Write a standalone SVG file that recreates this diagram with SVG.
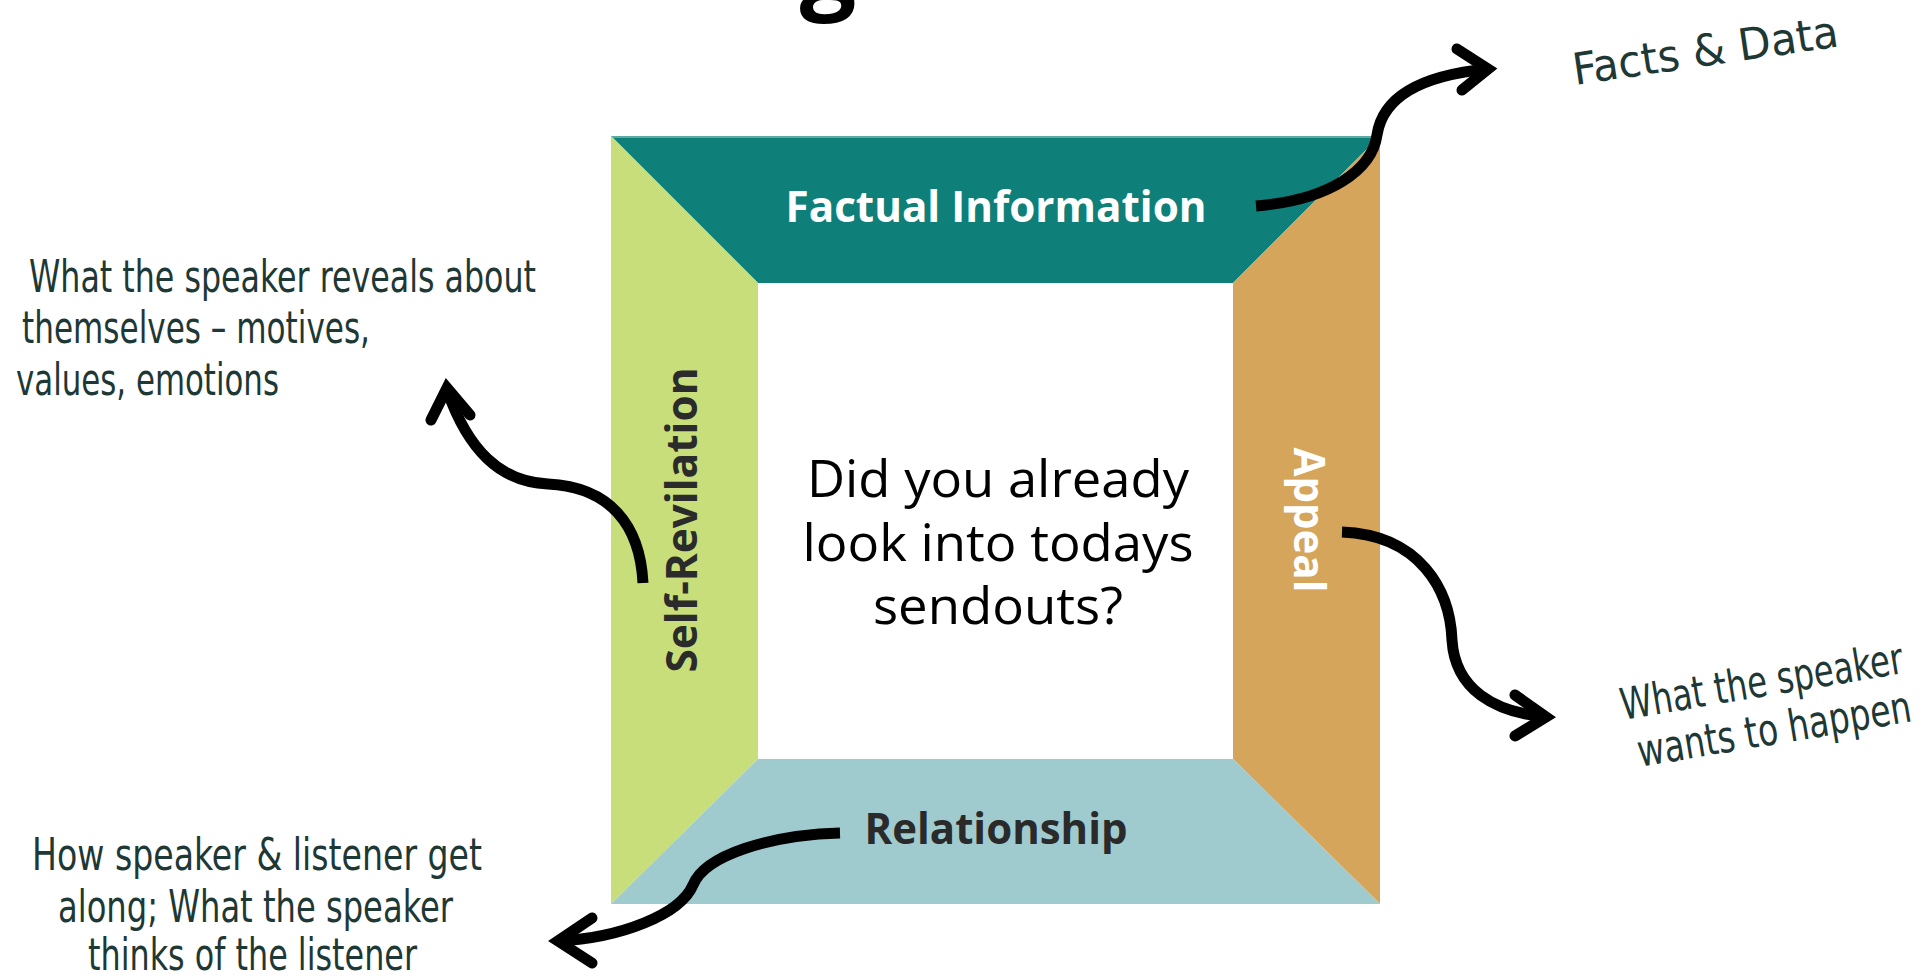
<svg xmlns="http://www.w3.org/2000/svg" width="1926" height="978" viewBox="0 0 1926 978">
  <style>
    .lbl { font-family: "Open Sans", "Noto Sans", "Liberation Sans", sans-serif; font-weight: 700; font-size: 43px; }
    .center { font-family: "Open Sans", "Noto Sans", "Liberation Sans", sans-serif; font-weight: 400; font-size: 52px; fill: #000; text-anchor: middle; }
    .hand { font-family: "Liberation Sans Narrow", "DejaVu Sans Condensed", "Roboto", sans-serif; font-size: 44px; fill: #1e3835; }
    .shaft { fill: none; stroke: #000; stroke-width: 11; stroke-linecap: butt; }
    .head { fill: none; stroke: #000; stroke-width: 11; stroke-linecap: round; stroke-linejoin: miter; stroke-miterlimit: 6; }
  </style>

  <rect x="0" y="0" width="1926" height="978" fill="#ffffff"/>

  <!-- title, mostly above the visible area -->
  <g id="title">
    <text x="828" y="0" font-family="Open Sans, Noto Sans, sans-serif" font-weight="700" font-size="100" text-anchor="middle" fill="#000">g</text>
  </g>

  <!-- four sides of the message square -->
  <g id="node-factual">
    <polygon points="611,136 1380,136 1233,283 758,283" fill="#0e7f79"/>
    <line x1="611" y1="137" x2="1380" y2="137" stroke="#5fa9a4" stroke-width="2"/>
    <text class="lbl" x="996" y="222" text-anchor="middle" fill="#ffffff" textLength="421" lengthAdjust="spacingAndGlyphs">Factual Information</text>
  </g>

  <g id="node-self">
    <polygon points="611,136 758,283 758,759 611,904" fill="#c8de7a"/>
    <text class="lbl" transform="translate(697,520) rotate(-90)" x="0" y="0" text-anchor="middle" fill="#2b2b2b" textLength="305" lengthAdjust="spacingAndGlyphs">Self-Revilation</text>
  </g>

  <g id="node-appeal">
    <polygon points="1380,136 1233,283 1233,759 1380,904" fill="#d6a55c"/>
    <text class="lbl" transform="translate(1294,520) rotate(90)" x="0" y="0" text-anchor="middle" fill="#ffffff" textLength="145" lengthAdjust="spacingAndGlyphs">Appeal</text>
  </g>

  <g id="node-relationship">
    <polygon points="611,904 758,759 1233,759 1380,904" fill="#9fcbcf"/>
    <text class="lbl" x="996" y="844" text-anchor="middle" fill="#2a2a2a" textLength="263" lengthAdjust="spacingAndGlyphs">Relationship</text>
  </g>

  <g id="node-center">
    <text class="center" x="998" y="497" textLength="382" lengthAdjust="spacingAndGlyphs">Did you already</text>
    <text class="center" x="998" y="561" textLength="391" lengthAdjust="spacingAndGlyphs">look into todays</text>
    <text class="center" x="998" y="624" textLength="250" lengthAdjust="spacingAndGlyphs">sendouts?</text>
  </g>

  <!-- handwritten notes -->
  <g id="note-facts">
    <text class="hand" transform="translate(1575,85) rotate(-8.3)" x="0" y="0" font-size="57" textLength="268" lengthAdjust="spacingAndGlyphs">Facts &amp; Data</text>
  </g>

  <g id="note-self">
    <text class="hand" x="29" y="292" textLength="507" lengthAdjust="spacingAndGlyphs">What the speaker reveals about</text>
    <text class="hand" x="22" y="343" textLength="348" lengthAdjust="spacingAndGlyphs">themselves – motives,</text>
    <text class="hand" x="16" y="395" textLength="263" lengthAdjust="spacingAndGlyphs">values, emotions</text>
  </g>

  <g id="note-appeal">
    <g transform="translate(1623,720) rotate(-9.5)">
      <text class="hand" x="0" y="0" textLength="286" lengthAdjust="spacingAndGlyphs">What the speaker</text>
      <text class="hand" x="9" y="49" textLength="277" lengthAdjust="spacingAndGlyphs">wants to happen</text>
    </g>
  </g>

  <g id="note-relationship">
    <text class="hand" x="32" y="870" textLength="450" lengthAdjust="spacingAndGlyphs">How speaker &amp; listener get</text>
    <text class="hand" x="58" y="922" textLength="395" lengthAdjust="spacingAndGlyphs">along; What the speaker</text>
    <text class="hand" x="88" y="970" textLength="329" lengthAdjust="spacingAndGlyphs">thinks of the listener</text>
  </g>

  <!-- curved arrows from each side to its note -->
  <g id="connectors">
    <path class="shaft" d="M1256,206 C1330,200 1372,170 1377,135 C1383,95 1425,75 1488,69"/>
    <polyline class="head" points="1457,49 1488,69 1462,90"/>

    <path class="shaft" d="M643,583 C640,525 610,487 548,484 C500,482 468,450 447,390"/>
    <polyline class="head" points="431,420 447,388 470,415"/>

    <path class="shaft" d="M1342,532 C1420,535 1450,590 1452,640 C1455,690 1495,712 1545,717"/>
    <polyline class="head" points="1515,695 1546,717 1515,736"/>

    <path class="shaft" d="M840,833 C770,835 705,855 693,885 C680,915 620,938 558,941"/>
    <polyline class="head" points="592,918 558,941 592,963"/>
  </g>
</svg>
